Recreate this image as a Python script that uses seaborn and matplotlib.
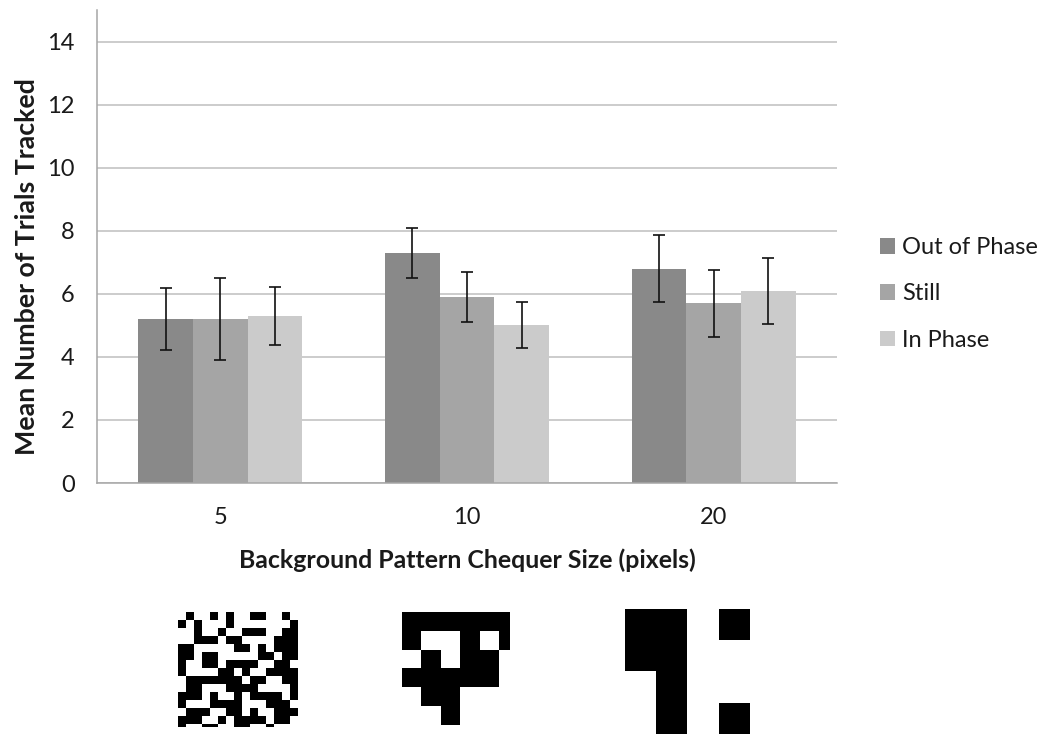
import numpy as np
import pandas as pd
import matplotlib
matplotlib.use("Agg")
import matplotlib.pyplot as plt
from matplotlib.patches import Patch
import seaborn as sns

# ---- data -------------------------------------------------------------
sizes = ["5", "10", "20"]
conditions = ["Out of Phase", "Still", "In Phase"]
out_of_phase = [5.2, 7.3, 6.8]
still = [5.2, 5.9, 5.7]
in_phase = [5.3, 5.0, 6.1]
err_out_of_phase = [0.98, 0.79, 1.05]
err_still = [1.30, 0.78, 1.06]
err_in_phase = [0.92, 0.73, 1.05]
y_ticks = [0, 2, 4, 6, 8, 10, 12, 14]

# example chequer patterns shown under each size (1 = black cell)
pattern_5px = [
    [0,1,0,0,1,0,1,0,0,1,1,0,0,1,0],
    [1,0,1,0,0,0,1,0,0,0,0,0,0,0,1],
    [0,0,1,0,0,1,0,0,1,1,1,0,0,1,1],
    [0,0,1,1,1,0,1,1,0,0,0,0,1,1,1],
    [1,1,0,0,0,0,0,1,1,0,1,0,1,1,1],
    [1,1,0,1,1,0,0,0,0,0,1,1,0,1,1],
    [1,0,0,1,1,0,1,1,1,1,0,0,1,1,0],
    [1,0,0,0,0,1,1,0,1,0,0,1,1,1,1],
    [0,1,1,1,1,1,1,1,0,1,1,0,0,1,1],
    [0,1,1,0,0,0,1,1,1,1,0,0,0,0,1],
    [1,1,1,0,1,0,0,1,0,1,1,1,1,0,1],
    [1,0,0,0,1,1,1,1,0,0,0,1,1,1,0],
    [0,1,1,1,0,0,1,1,0,1,0,0,1,1,1],
    [1,1,1,0,0,1,0,1,1,1,1,0,1,1,0],
    [1,0,0,1,1,0,0,1,1,0,0,1,0,0,0],
]
pattern_10px = [
    [1,1,1,1,1,1],
    [1,0,0,1,0,1],
    [0,1,0,1,1,0],
    [1,1,1,1,1,0],
    [0,1,1,0,0,0],
    [0,0,1,0,0,0],
]
pattern_20px = [
    [1,1,0,1],
    [1,1,0,0],
    [0,1,0,0],
    [0,1,0,1],
]

palette = {"Out of Phase": "#898989", "Still": "#a5a5a5", "In Phase": "#cbcbcb"}

df = pd.DataFrame({
    "size": sizes * 3,
    "condition": np.repeat(conditions, len(sizes)),
    "mean": out_of_phase + still + in_phase,
})
errors = {"Out of Phase": err_out_of_phase, "Still": err_still, "In Phase": err_in_phase}

# ---- style ------------------------------------------------------------
sns.set_style("white")
plt.rcParams["font.family"] = ["Lato", "DejaVu Sans"]
text_color = "#1a1a1a"

W, H = 1044, 734
fig = plt.figure(figsize=(W / 100, H / 100), dpi=100)
renderer = fig.canvas.get_renderer()

def px_axes(x0, y0, x1, y1):
    return fig.add_axes([x0 / W, 1 - y1 / H, (x1 - x0) / W, (y1 - y0) / H])

def fit_size(artist, target_px, vertical=False):
    """Scale an artist's font so its rendered extent spans target_px."""
    bb = artist.get_window_extent(renderer)
    span = bb.height if vertical else bb.width
    artist.set_fontsize(artist.get_fontsize() * target_px / span)

ax = px_axes(97, 10, 837, 483)

sns.barplot(data=df, x="size", y="mean", hue="condition", order=sizes,
            hue_order=conditions, palette=palette, width=0.665,
            errorbar=None, legend=False, edgecolor="none", ax=ax)

# error bars at the centre of every bar
for cond, cont in zip(conditions, ax.containers):
    for bar, e in zip(cont, errors[cond]):
        xc = bar.get_x() + bar.get_width() / 2
        ax.errorbar(xc, bar.get_height(), yerr=e, fmt="none", ecolor="#111111",
                    elinewidth=1.2, capsize=4.5, capthick=1.2, zorder=5)

ax.set_ylim(0, 15)
ax.set_yticks(y_ticks)
ax.set_xlim(-0.5, 2.5)
ax.yaxis.grid(True, color="#bfbfbf", linewidth=1.1)
ax.xaxis.grid(False)
ax.set_axisbelow(True)
for s in ["top", "right"]:
    ax.spines[s].set_visible(False)
for s in ["left", "bottom"]:
    ax.spines[s].set_color("#a6a6a6")
    ax.spines[s].set_linewidth(1.1)

tick_size = 17
ax.tick_params(axis="both", length=0, labelsize=tick_size, labelcolor=text_color)
ax.tick_params(axis="y", pad=16)
ax.tick_params(axis="x", pad=17)

xl = ax.set_xlabel("Background Pattern Chequer Size (pixels)", fontsize=16,
                   fontweight="bold", color=text_color)
yl = ax.set_ylabel("Mean Number of Trials Tracked", fontsize=16,
                   fontweight="bold", color=text_color)
fit_size(xl, 459)
fit_size(yl, 380, vertical=True)
ax.xaxis.set_label_coords(0.5, 1 - (548 - 10) / 473, transform=ax.transAxes)
ax.xaxis.label.set_verticalalignment("top")
ax.yaxis.set_label_coords((27 - 97) / 740, 1 - (267 - 10) / 473,
                          transform=ax.transAxes)
ax.yaxis.label.set_verticalalignment("center")

handles = [Patch(facecolor=palette[c], edgecolor="none") for c in conditions]
fig.legend(handles, conditions, loc="center left",
           bbox_to_anchor=(880 / W, 1 - 294 / H), frameon=False, fontsize=17,
           borderpad=0, borderaxespad=0,
           handlelength=0.64, handleheight=0.64, handletextpad=0.3,
           labelspacing=1.07, labelcolor=text_color)

# chequer pattern thumbnails
def draw_pattern(grid, box, nrows_visible=None, ncols_visible=None):
    g = np.array(grid)
    pax = px_axes(*box)
    pax.imshow(g, cmap="gray_r", vmin=0, vmax=1, interpolation="nearest",
               aspect="auto", extent=[0, g.shape[1], g.shape[0], 0])
    pax.set_xlim(0, ncols_visible if ncols_visible else g.shape[1])
    pax.set_ylim(nrows_visible if nrows_visible else g.shape[0], 0)
    pax.axis("off")

draw_pattern(pattern_5px, (178, 612, 298, 727), nrows_visible=14.4)
draw_pattern(pattern_10px, (402, 612, 510, 725), ncols_visible=5.56)
draw_pattern(pattern_20px, (625, 609, 750, 734))

fig.savefig("out.png", dpi=100)
